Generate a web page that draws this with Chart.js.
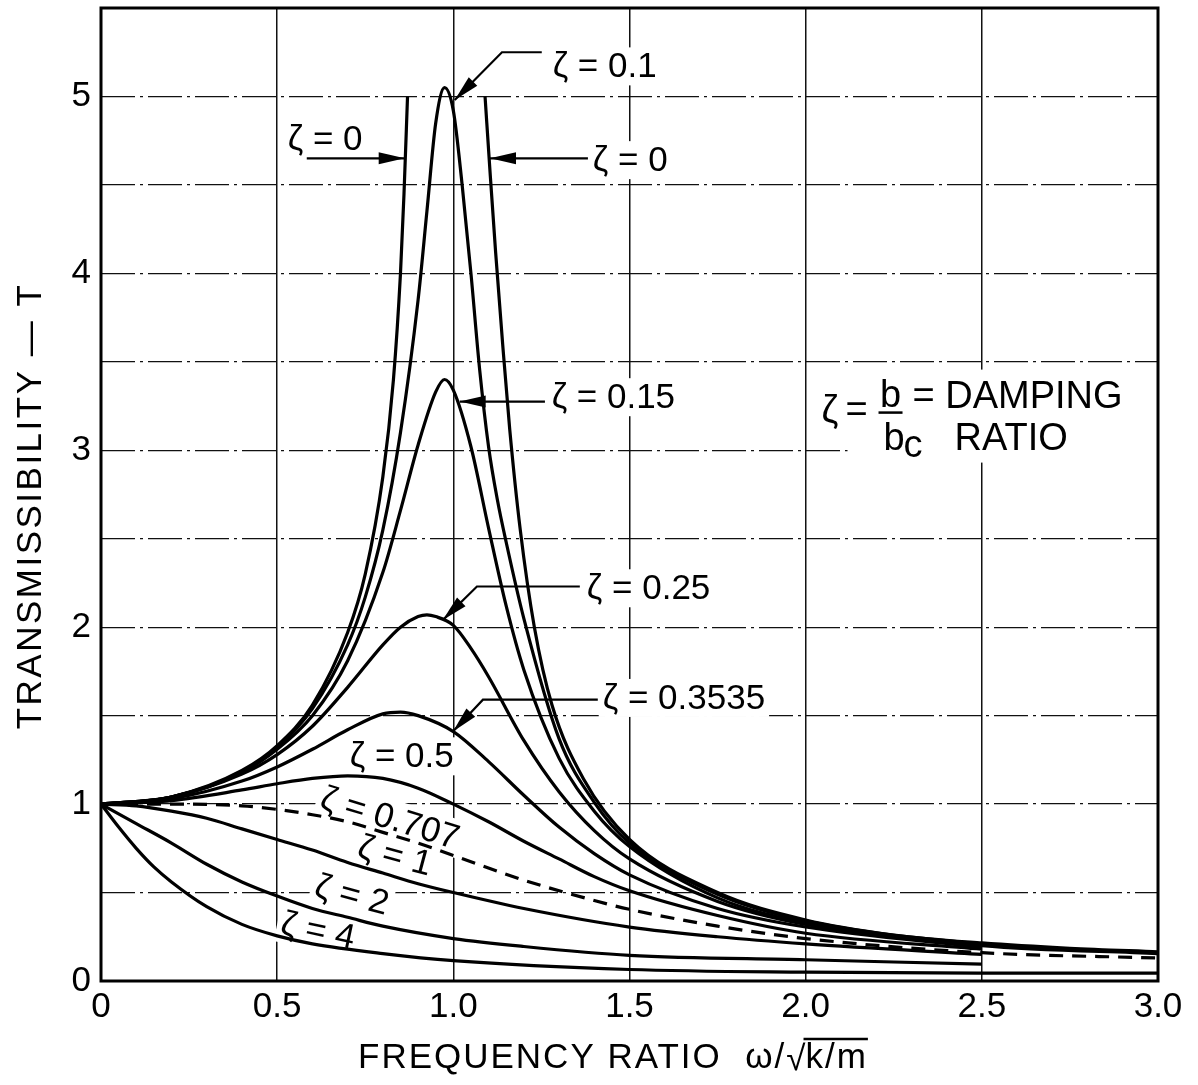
<!DOCTYPE html>
<html>
<head>
<meta charset="utf-8">
<title>Transmissibility</title>
<script src="https://cdn.jsdelivr.net/npm/chart.js@4.4.0/dist/chart.umd.min.js"></script>
<style>
  html, body { margin: 0; padding: 0; background: #fff; }
  #wrap { width: 1198px; height: 1085px; }
</style>
</head>
<body>
<div id="wrap"><canvas id="chart" width="1198" height="1085"></canvas></div>
<script>
// frequency ratio (x) and transmissibility (T), one pair of arrays per damping ratio
const z0LeftX  = [0, 0.2, 0.4, 0.5, 0.6, 0.7, 0.75, 0.8, 0.83, 0.85, 0.86, 0.87];
const z0LeftT  = [1, 1.04, 1.19, 1.33, 1.56, 1.97, 2.3, 2.85, 3.4, 4.0, 4.45, 5.0];
const z0RightX = [1.09, 1.105, 1.12, 1.14, 1.16, 1.19, 1.23, 1.28, 1.37, 1.5, 1.75, 2.0, 2.25, 2.5, 2.75, 3.0];
const z0RightT = [5.0, 4.55, 4.12, 3.6, 3.12, 2.55, 2.0, 1.56, 1.14, 0.8, 0.5, 0.345, 0.26, 0.215, 0.185, 0.165];

const z01X = [0, 0.2, 0.4, 0.5, 0.6, 0.7, 0.75, 0.8, 0.85, 0.9, 0.925, 0.95, 0.975, 1.0, 1.025, 1.05, 1.075, 1.1, 1.125, 1.15, 1.2, 1.3, 1.4, 1.5, 1.75, 2.0, 2.5, 3.0];
const z01T = [1, 1.04, 1.18, 1.32, 1.54, 1.9, 2.17, 2.55, 3.1, 3.85, 4.35, 4.85, 5.05, 4.92, 4.5, 4.0, 3.45, 3.02, 2.72, 2.48, 2.05, 1.37, 1.01, 0.78, 0.49, 0.34, 0.21, 0.16];

const z015X = [0, 0.2, 0.4, 0.5, 0.6, 0.7, 0.8, 0.85, 0.9, 0.95, 0.975, 1.0, 1.05, 1.1, 1.15, 1.2, 1.3, 1.4, 1.5, 1.75, 2.0, 2.5, 3.0];
const z015T = [1, 1.04, 1.18, 1.31, 1.5, 1.81, 2.31, 2.66, 3.03, 3.33, 3.4, 3.34, 3.02, 2.56, 2.12, 1.76, 1.26, 0.96, 0.76, 0.47, 0.33, 0.2, 0.155];

const z025X = [0, 0.2, 0.4, 0.5, 0.6, 0.7, 0.8, 0.85, 0.9, 0.925, 0.95, 1.0, 1.05, 1.1, 1.2, 1.3, 1.4, 1.5, 1.75, 2.0, 2.5];
const z025T = [1, 1.04, 1.17, 1.28, 1.44, 1.66, 1.9, 2.0, 2.06, 2.07, 2.06, 2.01, 1.88, 1.72, 1.36, 1.07, 0.85, 0.69, 0.45, 0.32, 0.2];

const z035X = [0, 0.2, 0.4, 0.5, 0.6, 0.7, 0.8, 0.85, 0.9, 1.0, 1.1, 1.2, 1.3, 1.4, 1.5, 1.75, 2.0, 2.5];
const z035T = [1, 1.03, 1.13, 1.21, 1.31, 1.42, 1.51, 1.52, 1.5, 1.41, 1.24, 1.05, 0.87, 0.72, 0.6, 0.41, 0.305, 0.19];

const z05X = [0, 0.2, 0.4, 0.5, 0.6, 0.7, 0.8, 0.9, 1.0, 1.1, 1.2, 1.3, 1.4, 1.5, 1.75, 2.0, 2.5];
const z05T = [1, 1.02, 1.08, 1.115, 1.145, 1.16, 1.145, 1.09, 1.0, 0.9, 0.79, 0.69, 0.59, 0.51, 0.37, 0.27, 0.18];

const z0707X = [0, 0.2, 0.4, 0.5, 0.6, 0.7, 0.8, 0.9, 1.0, 1.2, 1.4, 1.5, 1.75, 2.0, 2.5, 3.0];
const z0707T = [1, 1.0, 0.99, 0.97, 0.94, 0.9, 0.84, 0.78, 0.71, 0.57, 0.455, 0.405, 0.31, 0.24, 0.16, 0.13];

const z1X = [0, 0.1, 0.2, 0.3, 0.4, 0.5, 0.6, 0.7, 0.8, 0.9, 1.0, 1.2, 1.5, 1.75, 2.0, 2.5];
const z1T = [1, 0.99, 0.96, 0.92, 0.86, 0.8, 0.74, 0.67, 0.61, 0.55, 0.5, 0.41, 0.305, 0.25, 0.21, 0.15];

const z2X = [0, 0.1, 0.2, 0.3, 0.4, 0.5, 0.6, 0.7, 0.8, 1.0, 1.2, 1.5, 2.0, 2.5];
const z2T = [1, 0.89, 0.78, 0.66, 0.56, 0.48, 0.41, 0.36, 0.31, 0.24, 0.195, 0.145, 0.12, 0.095];

const z4X = [0, 0.05, 0.1, 0.15, 0.2, 0.3, 0.4, 0.5, 0.6, 0.8, 1.0, 1.5, 2.0, 2.5, 3.0];
const z4T = [1, 0.87, 0.75, 0.645, 0.56, 0.42, 0.32, 0.255, 0.21, 0.155, 0.115, 0.065, 0.05, 0.045, 0.045];

const fam = '"Liberation Sans", Arial, Helvetica, sans-serif';

const pts = (xs, ts) => xs.map((x, i) => ({ x, y: ts[i] }));
const curve = (label, xs, ts, dash) => ({
  label, data: pts(xs, ts),
  borderColor: '#000', borderWidth: 3.2, pointRadius: 0,
  cubicInterpolationMode: 'monotone', fill: false,
  borderDash: dash || []
});

// curve labels, placed in data units
const notes = [
  { text: 'ζ = 0.1',    at: [1.282, 5.17], path: [[1.251, 5.25], [1.138, 5.25], [1.004, 4.98]] },
  { text: 'ζ = 0',      at: [0.53, 4.76],  path: [[0.584, 4.65], [0.862, 4.65]] },
  { text: 'ζ = 0',      at: [1.396, 4.64], path: [[1.382, 4.65], [1.104, 4.65]] },
  { text: 'ζ = 0.15',   at: [1.279, 3.30], path: [[1.26, 3.275], [1.018, 3.275]] },
  { text: 'ζ = 0.25',   at: [1.379, 2.22], path: [[1.359, 2.23], [1.067, 2.23], [0.970, 2.04]] },
  { text: 'ζ = 0.3535', at: [1.424, 1.60], path: [[1.41, 1.59], [1.084, 1.59], [0.999, 1.41]] },
  { text: 'ζ = 0.5',    at: [0.706, 1.27] },
  { text: 'ζ = 0.707',  at: [0.82, 0.92],  angle: 17, center: true },
  { text: 'ζ = 1',      at: [0.834, 0.707], angle: 15, center: true },
  { text: 'ζ = 2',      at: [0.712, 0.486], angle: 15, center: true },
  { text: 'ζ = 4',      at: [0.616, 0.283], angle: 12, center: true }
];

const arrow = (ctx, pts) => {
  ctx.beginPath();
  ctx.moveTo(pts[0][0], pts[0][1]);
  pts.slice(1).forEach(p => ctx.lineTo(p[0], p[1]));
  ctx.lineWidth = 2.2;
  ctx.stroke();
  const [ax, ay] = pts[pts.length - 2];
  const [bx, by] = pts[pts.length - 1];
  const a = Math.atan2(by - ay, bx - ax);
  ctx.save();
  ctx.translate(bx, by);
  ctx.rotate(a);
  ctx.beginPath();
  ctx.moveTo(0, 0);
  ctx.lineTo(-26, -6);
  ctx.lineTo(-26, 6);
  ctx.closePath();
  ctx.fill();
  ctx.restore();
};

const decor = {
  id: 'decor',
  beforeDatasetsDraw(chart) {
    const { ctx, scales: { x, y } } = chart;
    ctx.save();
    ctx.fillStyle = '#000';
    ctx.strokeStyle = '#000';
    ctx.textBaseline = 'middle';
    notes.forEach(n => {
      const px = x.getPixelForValue(n.at[0]);
      const py = y.getPixelForValue(n.at[1]);
      ctx.font = '35px ' + fam;
      const w = ctx.measureText(n.text).width;
      ctx.save();
      ctx.translate(px, py);
      ctx.rotate((n.angle || 0) * Math.PI / 180);
      const left = n.center ? -w / 2 : 0;
      ctx.fillStyle = '#fff';
      ctx.fillRect(left - 4, -19, w + 8, 38);
      ctx.fillStyle = '#000';
      ctx.textAlign = 'left';
      ctx.fillText(n.text, left, 1);
      ctx.restore();
      if (n.path) {
        arrow(ctx, n.path.map(p => [x.getPixelForValue(p[0]), y.getPixelForValue(p[1])]));
      }
    });

    // damping ratio definition
    const ox = x.getPixelForValue(2.045);
    const oy = y.getPixelForValue(3.23);
    ctx.fillStyle = '#fff';
    ctx.fillRect(ox + 26, oy - 40, 320, 93);
    ctx.fillStyle = '#000';
    ctx.textAlign = 'left';
    ctx.font = '38px ' + fam;
    ctx.fillText('ζ', ox, oy + 2);
    ctx.fillText('=', ox + 24, oy + 2);
    ctx.textAlign = 'center';
    ctx.fillText('b', ox + 69, oy - 13);
    ctx.lineWidth = 2.5;
    ctx.beginPath();
    ctx.moveTo(ox + 57, oy + 3);
    ctx.lineTo(ox + 81, oy + 3);
    ctx.stroke();
    ctx.textAlign = 'left';
    ctx.fillText('b', ox + 62, oy + 30);
    ctx.fillText('c', ox + 82, oy + 37);
    ctx.fillText('= DAMPING', ox + 91, oy - 12);
    ctx.fillText('RATIO', ox + 133, oy + 30);
    ctx.restore();
  },
  afterDraw(chart) {
    const { ctx, chartArea: a } = chart;
    ctx.save();
    ctx.strokeStyle = '#000';
    ctx.lineWidth = 3;
    ctx.strokeRect(a.left, a.top, a.right - a.left, a.bottom - a.top);

    // axis titles
    ctx.fillStyle = '#000';
    ctx.textBaseline = 'middle';
    ctx.font = '35px ' + fam;
    ctx.letterSpacing = '2px';
    ctx.textAlign = 'left';
    const t1 = 'FREQUENCY RATIO  ω/';
    const tx = 358, ty = 1058;
    ctx.fillText(t1, tx, ty);
    let cx = tx + ctx.measureText(t1).width;
    ctx.fillText('√', cx, ty + 2);
    cx += ctx.measureText('√').width - 2;
    ctx.fillText('k/m', cx, ty);
    const km = ctx.measureText('k/m').width;
    ctx.lineWidth = 2.5;
    ctx.beginPath();
    ctx.moveTo(cx - 2, ty - 19);
    ctx.lineTo(cx + km, ty - 19);
    ctx.stroke();

    ctx.save();
    ctx.translate(31, 506);
    ctx.rotate(-Math.PI / 2);
    ctx.textAlign = 'center';
    ctx.letterSpacing = '2.5px';
    ctx.fillText('TRANSMISSIBILITY — T', 0, 0);
    ctx.restore();
    ctx.restore();
  }
};

new Chart(document.getElementById('chart'), {
  type: 'line',
  data: {
    datasets: [
      curve('ζ = 0', z0LeftX, z0LeftT),
      curve('ζ = 0 ', z0RightX, z0RightT),
      curve('ζ = 0.1', z01X, z01T),
      curve('ζ = 0.15', z015X, z015T),
      curve('ζ = 0.25', z025X, z025T),
      curve('ζ = 0.3535', z035X, z035T),
      curve('ζ = 0.5', z05X, z05T),
      curve('ζ = 0.707', z0707X, z0707T, [14, 9]),
      curve('ζ = 1', z1X, z1T),
      curve('ζ = 2', z2X, z2T),
      curve('ζ = 4', z4X, z4T)
    ]
  },
  options: {
    responsive: false,
    animation: false,
    devicePixelRatio: 1,
    layout: { padding: { top: 8, right: 40, left: 0, bottom: 0 } },
    plugins: { legend: { display: false }, tooltip: { enabled: false } },
    scales: {
      x: {
        type: 'linear', min: 0, max: 3,
        grid: { color: '#111', lineWidth: 1.5, drawTicks: false },
        border: { display: false },
        ticks: {
          stepSize: 0.5, padding: 5, color: '#000', maxRotation: 0,
          font: { family: fam, size: 35 },
          callback: v => v === 0 ? '0' : v.toFixed(1)
        },
        afterFit: s => { s.height = 104; }
      },
      y: {
        min: 0, max: 5.5,
        grid: { color: '#111', lineWidth: 1.2, drawTicks: false },
        border: { display: false, dash: [34, 5, 3, 5] },
        ticks: {
          stepSize: 0.5, padding: 10, color: '#000',
          font: { family: fam, size: 35 },
          callback: v => Number.isInteger(v) ? String(v) : ''
        },
        afterFit: s => { s.width = 101; s.paddingTop = 0; s.paddingBottom = 0; }
      }
    }
  },
  plugins: [decor]
});
</script>
</body>
</html>
